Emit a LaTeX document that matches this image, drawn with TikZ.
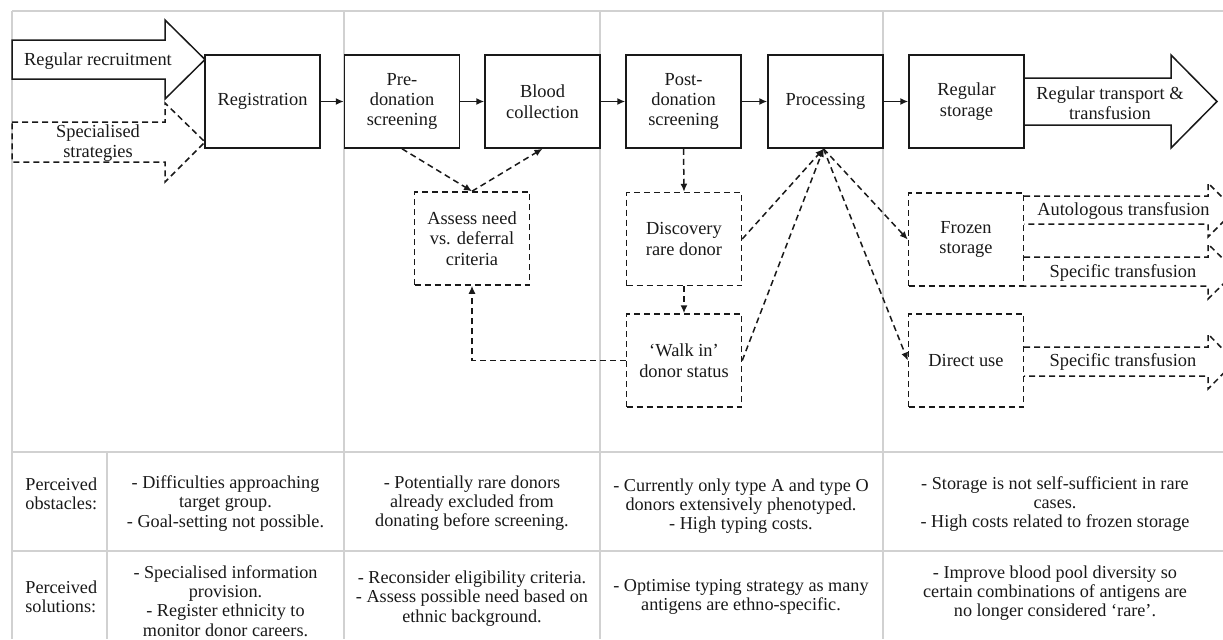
\documentclass[tikz,border=0pt]{standalone}
\usepackage{fontspec}
\setmainfont{Liberation Serif}
\usetikzlibrary{arrows.meta}
\newcommand\myboxfont{\fontsize{9.2}{10.2}\selectfont}
\newcommand\mycellfont{\fontsize{9.1}{9.6}\selectfont}
\tikzset{
  box/.style={draw=black!90, line width=0.75pt, minimum width=57.5pt, minimum height=46.5pt,
    align=center, inner sep=0pt, font=\myboxfont, text=black!90},
  dbox/.style={box, dash pattern=on 3pt off 2pt},
  conn/.style={-{Latex[length=4pt,width=3.5pt]}, line width=0.75pt, draw=black!90},
  dconn/.style={conn, dash pattern=on 3pt off 2pt},
  bigarrow/.style={draw=black!90, line width=0.75pt, line join=miter},
  dbigarrow/.style={bigarrow, dash pattern=on 3pt off 2pt},
  gridline/.style={draw=black!18, line width=0.6pt},
  cell/.style={align=center, inner sep=0pt, font=\mycellfont, text=black!90},
  arrowtext/.style={align=center, inner sep=0pt, font=\myboxfont, text=black!90}
}
\begin{document}
\begin{tikzpicture}[x=0.5pt, y=-0.5pt]
\useasboundingbox (0,0) rectangle (1223,639);
% grid
\draw[gridline] (12,11) -- (1223,11);
\draw[gridline] (12,11) -- (12,639);
\draw[gridline] (344,11) -- (344,639);
\draw[gridline] (600,11) -- (600,639);
\draw[gridline] (883,11) -- (883,639);
\draw[gridline] (107,452) -- (107,639);
\draw[gridline] (12,452) -- (1223,452);
\draw[gridline] (12,551) -- (1223,551);

% big arrows left
\draw[bigarrow] (12,40) -- (165,40) -- (165,20) -- (205,59.5) -- (165,99) -- (165,79) -- (12,79) -- cycle;
\node[arrowtext] (recr) at (98,61) {Regular recruitment};
\draw[dbigarrow] (12,122) -- (165,122) -- (165,103) -- (205,142) -- (165,182) -- (165,162) -- (12,162) -- cycle;
\node[arrowtext] (spec) at (98,143) {Specialised\\strategies};

% main boxes
\node[box] (reg) at (262.5,101.5) {Registration};
\node[box] (pre) at (402,101.5) {Pre-\\donation\\screening};
\node[box] (blood) at (542.5,101.5) {Blood\\collection};
\node[box] (post) at (683.5,101.5) {Post-\\donation\\screening};
\node[box] (proc) at (825.5,101.5) {Processing};
\node[box] (stor) at (966.5,101.5) {Regular\\storage};

% right big arrow
\draw[bigarrow] (1024,78) -- (1171,78) -- (1171,55) -- (1217,101.5) -- (1171,148) -- (1171,125) -- (1024,125);
\node[arrowtext] (trans) at (1110,103) {Regular transport \&\\transfusion};

% dashed boxes
\node[dbox] (assess) at (472,238.5) {Assess need\\vs. deferral\\criteria};
\node[dbox] (disc) at (684,239) {Discovery\\rare donor};
\node[dbox] (walk) at (684,360.5) {‘Walk in’\\donor status};
\node[dbox] (frozen) at (966,239.5) {Frozen\\storage};
\node[dbox] (direct) at (966,360.5) {Direct use};

% small dashed arrows at right (clipped)
\begin{scope}
\clip (0,0) rectangle (1223,639);
\draw[dbigarrow] (1024,196) -- (1208,196) -- (1208,183) -- (1235,210) -- (1208,237) -- (1208,224) -- (1024,224);
\draw[dbigarrow] (1024,257) -- (1208,257) -- (1208,244) -- (1236,271.5) -- (1208,299) -- (1208,286) -- (1024,286);
\draw[dbigarrow] (1024,347) -- (1208,347) -- (1208,334) -- (1235,361.5) -- (1208,389) -- (1208,376) -- (1024,376);
\end{scope}
\node[arrowtext] (auto) at (1123.5,211) {Autologous transfusion};
\node[arrowtext] (spec1) at (1123,273) {Specific transfusion};
\node[arrowtext] (spec2) at (1123,362) {Specific transfusion};

% connectors
\draw[conn] (reg) -- (pre);
\draw[conn] (pre) -- (blood);
\draw[conn] (blood) -- (post);
\draw[conn] (post) -- (proc);
\draw[conn] (proc) -- (stor);
\draw[dconn] (pre.south) -- (assess.north);
\draw[dconn] (assess.north) -- (blood.south);
\draw[dconn] (post.south) -- (disc.north);
\draw[dconn] (disc.south) -- (walk.north);
\draw[dconn] (walk.west) -| (assess.south);
\coordinate (hub) at ([xshift=-1pt]proc.south);
\draw[dconn] (disc.east) -- (hub);
\draw[dconn] (walk.east) -- (hub);
\draw[dconn] (hub) -- (frozen.west);
\draw[dconn] (hub) -- (direct.west);

% table
\node[cell, anchor=west, align=left] (obst) at (25,494) {Perceived\\obstacles:};
\node[cell, anchor=west, align=left] (sol) at (25,597) {Perceived\\solutions:};
\node[cell] (o1) at (225.5,503.5) {- Difficulties approaching\\target group.\\- Goal-setting not possible.};
\node[cell] (s1) at (225.5,601) {- Specialised information\\provision.\\- Register ethnicity to\\monitor donor careers.};
\node[cell] (o2) at (472,503) {- Potentially rare donors\\already excluded from\\donating before screening.};
\node[cell] (s2) at (472,598.5) {- Reconsider eligibility criteria.\\- Assess possible need based on\\ethnic background.};
\node[cell] (o3) at (741,506) {- Currently only type A and type O\\donors extensively phenotyped.\\- High typing costs.};
\node[cell] (s3) at (741,597) {- Optimise typing strategy as many\\antigens are ethno-specific.};
\node[cell] (o4) at (1055,504) {- Storage is not self-sufficient in rare\\cases.\\- High costs related to frozen storage};
\node[cell] (s4) at (1055,593) {- Improve blood pool diversity so\\certain combinations of antigens are\\no longer considered ‘rare’.};
\end{tikzpicture}
\end{document}
